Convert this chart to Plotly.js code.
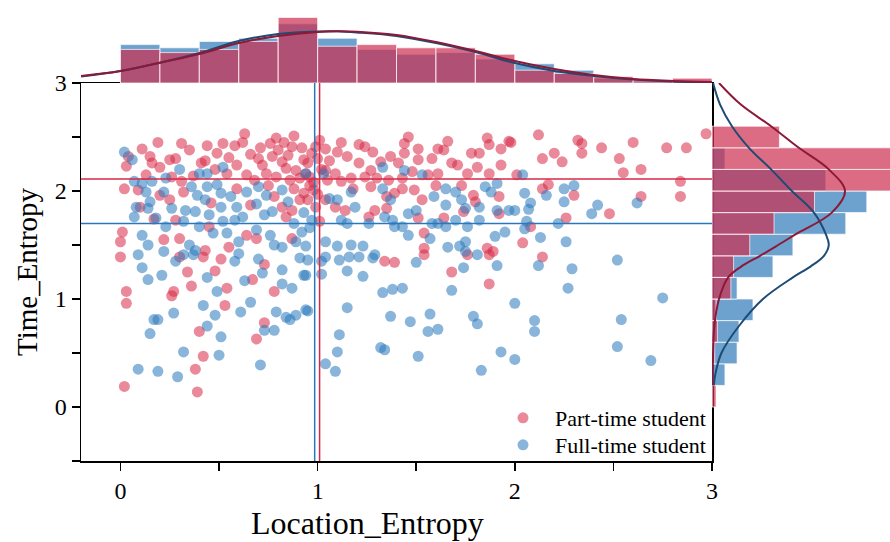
<!DOCTYPE html>
<html><head><meta charset="utf-8">
<script src="https://cdn.plot.ly/plotly-3.0.1.min.js"></script>
<style>html,body{margin:0;padding:0;background:#fff}#chart{width:890px;height:542px}</style>
</head><body><div id="chart"></div>
<script>
const seriesNames = ['Part-time student', 'Full-time student'];
const axisTitles = ['Location_Entropy', 'Time_Entropy'];

const partLocation = [0.63,0.31,0.19,0.11,0.44,0.52,0.58,0.49,0.66,0.76,
0.79,0.88,0.87,0.04,0.03,0.15,0.16,0.20,0.25,0.28,
0.26,0.31,0.41,0.43,0.54,0.59,0.64,0.68,0.72,0.77,
0.82,0.84,0.89,0.93,0.74,0.79,0.86,0.91,0.94,0.02,
0.09,0.20,0.25,0.32,0.46,0.59,0.66,0.78,0.82,0.87,
0.91,0.84,0.10,0.45,0.30,0.22,0.64,0.69,0.87,0.01,
0.00,0.00,0.43,0.55,0.28,0.17,0.80,0.85,0.92,0.70,
0.75,0.88,0.93,0.96,0.83,1.46,1.44,1.51,1.01,0.99,
1.04,1.10,1.21,1.24,1.28,1.15,1.21,1.27,1.37,1.41,
1.44,1.51,1.48,1.61,1.64,1.68,1.71,1.78,1.82,1.86,
1.87,1.93,1.97,1.81,1.87,1.93,1.76,1.61,1.56,0.95,
0.96,0.98,0.95,0.99,1.04,1.05,1.09,1.12,1.17,1.24,
1.30,1.36,1.43,1.01,1.04,1.09,1.14,1.27,1.35,1.39,
1.43,1.49,1.53,1.35,1.29,1.26,1.51,1.64,1.74,1.80,
1.79,1.92,1.92,1.54,1.54,1.86,1.89,1.00,1.02,0.97,
1.06,0.98,1.00,2.12,2.32,2.34,2.34,2.20,2.14,2.24,
2.44,2.53,2.60,2.55,2.64,2.77,2.87,2.97,1.98,2.01,
2.17,2.14,2.30,2.84,2.84,2.64,2.48,2.26,2.08,2.04,
2.14,0.30,0.42,0.51,0.48,0.34,0.36,0.27,0.26,0.54,
0.53,0.03,0.03,0.67,0.73,0.78,0.73,0.69,0.40,0.42,
0.38,0.02,0.39,1.34,1.39,1.54,1.68,1.87,1.76,1.87,
0.35,0.55,0.62,0.71,1.12,1.32,1.58,1.66,1.73,0.48,
1.18,1.60,0.13,0.37];
const partTime = [2.53,2.44,2.45,2.39,2.42,2.44,2.42,2.35,2.34,2.44,
2.49,2.51,2.41,2.32,2.23,2.32,2.26,2.22,2.29,2.30,
2.13,2.09,2.26,2.28,2.16,2.24,2.15,2.10,2.24,2.32,
2.27,2.21,2.19,2.29,2.16,2.13,2.10,2.12,2.16,2.02,
2.01,1.96,1.92,1.99,1.89,2.02,1.87,1.95,1.85,1.82,
1.92,1.76,1.85,1.67,1.56,1.55,1.59,1.56,1.56,1.62,
1.53,1.39,1.45,1.48,1.73,1.74,2.38,2.33,2.40,2.30,
2.05,2.02,1.98,2.05,2.45,2.50,2.44,2.39,2.47,2.41,
2.39,2.36,2.43,2.41,2.36,2.32,2.26,2.19,2.32,2.26,
2.35,2.29,2.18,2.39,2.38,2.26,2.24,2.35,2.35,2.49,
2.43,2.39,2.46,2.22,2.16,2.24,2.16,2.16,2.15,2.26,
2.13,2.01,1.92,1.85,2.19,2.10,2.16,2.09,2.12,2.13,
2.12,2.10,2.12,1.72,1.92,1.85,1.82,2.04,1.95,1.98,
2.02,2.01,1.92,1.84,1.82,1.76,1.75,1.75,1.81,1.90,
1.96,1.95,1.79,1.61,1.47,1.47,1.44,2.30,2.20,2.35,
2.28,2.08,1.97,2.52,2.47,2.44,2.35,2.35,2.30,2.27,
2.40,2.30,2.45,2.17,2.20,2.40,2.40,2.53,2.45,2.15,
2.06,2.02,1.96,2.09,1.95,1.95,1.79,1.75,1.67,1.52,
1.39,1.39,1.39,1.37,1.26,1.25,1.12,1.07,1.03,1.10,
0.94,1.07,0.96,1.18,1.32,1.07,0.78,0.63,0.70,0.47,
0.35,0.19,0.14,1.35,1.34,1.41,1.25,1.14,1.41,1.41,
2.38,2.31,2.45,2.40,2.45,2.27,2.30,2.46,2.05,2.20,
2.02,2.05,2.15,2.14];

const fullLocation = [0.02,0.06,0.30,0.40,0.44,0.52,0.07,0.11,0.16,0.23,
0.36,0.44,0.49,0.13,0.22,0.39,0.43,0.51,0.56,0.64,
0.70,0.74,0.82,0.69,0.77,0.15,0.26,0.33,0.38,0.45,
0.51,0.59,0.62,0.73,0.08,0.07,0.14,0.18,0.23,0.32,
0.40,0.52,0.58,0.11,0.14,0.22,0.35,0.38,0.47,0.54,
0.60,0.69,0.76,0.78,0.82,0.92,0.89,0.09,0.32,0.60,
0.88,0.93,0.85,0.96,0.94,1.03,1.17,1.33,1.33,1.44,
1.53,1.65,1.70,1.73,1.85,1.88,1.91,1.19,1.10,1.06,
1.37,1.38,1.46,1.50,1.59,1.65,1.75,1.82,1.91,1.97,
0.97,1.12,1.15,1.26,1.34,1.39,1.43,1.46,1.58,1.61,
1.65,1.70,1.76,1.75,1.82,1.90,1.95,0.94,1.04,1.10,
1.17,1.23,1.29,1.21,1.04,1.57,1.66,1.72,1.75,1.81,
2.04,2.05,2.16,2.25,2.30,2.25,2.08,2.07,2.00,2.42,
2.39,2.62,2.06,2.05,2.22,2.13,2.26,2.52,0.11,0.14,
0.21,0.28,0.37,0.44,0.49,0.58,0.63,0.70,0.72,0.82,
0.82,0.87,0.93,0.91,0.42,0.48,0.27,0.17,0.19,0.15,
0.61,0.66,0.79,0.84,0.86,0.89,0.94,0.73,0.78,0.44,
0.51,0.32,0.50,0.71,0.09,0.19,0.29,0.95,1.02,1.11,
1.16,1.28,0.94,1.02,1.15,1.23,1.50,1.74,1.91,1.33,
1.38,1.43,1.68,0.95,1.15,1.37,1.47,1.57,1.56,1.61,
1.79,1.81,1.11,1.10,1.32,1.34,1.51,1.04,1.09,1.83,
1.93,2.00,2.00,2.12,2.29,2.27,2.75,2.10,2.10,2.54,
2.52,2.69];
const fullTime = [2.36,2.29,2.20,2.16,2.16,2.22,2.09,2.07,2.09,2.12,
2.04,2.04,2.06,1.99,1.99,1.96,1.92,1.98,1.95,1.99,
2.04,1.96,2.01,1.88,1.81,1.90,1.84,1.82,1.81,1.78,
1.85,1.85,1.76,1.78,1.85,1.76,1.84,1.75,1.67,1.72,
1.67,1.72,1.73,1.59,1.50,1.44,1.50,1.45,1.61,1.61,
1.53,1.64,1.59,1.50,1.48,1.62,1.53,1.41,1.41,1.42,
1.70,1.80,1.90,1.66,2.16,2.16,1.99,2.02,2.22,2.19,
2.15,2.02,1.99,1.92,2.04,1.99,2.07,1.85,1.92,1.93,
1.92,1.73,1.79,1.82,1.95,1.87,1.84,1.85,1.82,1.82,
1.73,1.73,1.70,1.70,1.76,1.67,1.67,1.59,1.70,1.70,
1.67,1.73,1.67,1.53,1.73,1.58,1.62,1.49,1.53,1.49,
1.50,1.49,1.41,1.39,1.39,1.56,1.48,1.49,1.44,1.41,
2.15,1.98,1.96,2.02,2.05,1.90,1.89,1.83,1.82,1.87,
1.79,1.89,1.72,1.65,1.70,1.57,1.53,1.36,1.29,1.18,
1.22,1.35,1.41,1.20,1.07,1.35,1.17,1.37,1.24,1.27,
1.14,1.10,1.22,1.38,0.94,0.85,0.87,0.81,0.81,0.68,
0.88,0.97,0.88,0.83,0.81,0.85,0.90,0.71,0.71,0.75,
0.65,0.51,0.48,0.39,0.35,0.33,0.28,1.36,1.35,1.36,
1.39,1.38,1.22,1.23,1.26,1.21,1.34,1.29,1.31,1.06,
1.09,1.10,1.08,0.89,0.92,0.84,0.79,0.86,0.70,0.72,
0.84,0.77,0.67,0.51,0.55,0.53,0.47,0.40,0.33,0.34,
0.51,0.44,0.96,1.31,1.28,1.10,1.01,0.80,0.70,0.81,
0.56,0.43];

// group means [part-time, full-time]
const meanLocation = [1.01, 0.985];
const meanTime = [2.11, 1.70];

// marginal histogram of Location_Entropy (bin centres, counts)
const locBins = [0.1,0.3,0.5,0.7,0.9,1.1,1.3,1.5,1.7,1.9,2.1,2.3,2.5,2.7,2.9];
const partLocCounts = [21,19,21,26,41,23,24,22,22,18,8,6,4,2,3];
const fullLocCounts = [24,22,26,28,37,28,21,18,19,15,12,8,3,1,0];

// marginal histogram of Time_Entropy (bin centres, counts)
const timeBins = [0.1,0.3,0.5,0.7,0.9,1.1,1.3,1.5,1.7,1.9,2.1,2.3,2.5];
const partTimeCounts = [1.5,0,1,2,1.5,7,8,14,23,38,72,74,25];
const fullTimeCounts = [0,4.8,9.3,10,15.2,9.3,22.6,30,49.6,57.4,42.2,4.8,0];

// density curves read from the marginals
const locGrid = [-0.2,0,0.2,0.4,0.6,0.8,1.0,1.1,1.2,1.4,1.6,1.8,2.0,2.2,2.4,2.6,2.8,3.0];
const partLocKde = [4.4,7.5,12.7,18.1,25,29.4,31.9,32.3,32.1,30,25.6,20,13.8,8.8,5,2.5,1.3,0.6];
const fullLocKde = [4.0,7.5,12.7,18.8,26.3,30.6,32.2,32.3,31.6,29.4,25,19.4,12.5,7.5,4.4,2.2,1.0,0.4];
const timeGrid = [0.2,0.3,0.5,0.75,1.0,1.2,1.3,1.4,1.5,1.6,1.8,2.0,2.2,2.4,2.6,2.8,3.0];
const partTimeKde = [0.1,0.2,0.4,0.85,2.6,6,10.8,17.8,24.5,31.1,44.4,49.3,43.3,32.2,21.9,10.7,2.6];
const fullTimeKde = [0.7,1.2,3.5,10,18.9,30,36.5,41.5,43.3,42.2,37.8,29.6,21.9,13.7,7.4,3,0.4];

const axisTicks = [0, 1, 2, 3];

const RED = 'rgb(215,40,70)', BLUE = 'rgb(40,120,190)';
const FONT = 'Liberation Serif, Times New Roman, serif';

const barLine = {color:'rgba(255,255,255,0.7)', width:1};
const traces = [
  {type:'bar', x: locBins, y: fullLocCounts, width: 0.2, xaxis:'x', yaxis:'y2',
   marker:{color:'rgba(60,130,190,0.75)', line:barLine}, showlegend:false, hoverinfo:'skip'},
  {type:'bar', x: locBins, y: partLocCounts, width: 0.2, xaxis:'x', yaxis:'y2',
   marker:{color:'rgba(205,45,80,0.7)', line:barLine}, showlegend:false, hoverinfo:'skip'},
  {type:'scatter', mode:'lines', x: locGrid, y: fullLocKde, xaxis:'x', yaxis:'y2',
   line:{color:'rgb(30,75,115)', width:2, shape:'spline'}, showlegend:false, hoverinfo:'skip'},
  {type:'scatter', mode:'lines', x: locGrid, y: partLocKde, xaxis:'x', yaxis:'y2',
   line:{color:'rgb(140,25,55)', width:2, shape:'spline'}, showlegend:false, hoverinfo:'skip'},
  {type:'bar', orientation:'h', y: timeBins, x: fullTimeCounts, width: 0.2, xaxis:'x2', yaxis:'y',
   marker:{color:'rgba(60,130,190,0.75)', line:barLine}, showlegend:false, hoverinfo:'skip'},
  {type:'bar', orientation:'h', y: timeBins, x: partTimeCounts, width: 0.2, xaxis:'x2', yaxis:'y',
   marker:{color:'rgba(205,45,80,0.7)', line:barLine}, showlegend:false, hoverinfo:'skip'},
  {type:'scatter', mode:'lines', y: timeGrid, x: fullTimeKde, xaxis:'x2', yaxis:'y',
   line:{color:'rgb(30,75,115)', width:2, shape:'spline'}, showlegend:false, hoverinfo:'skip'},
  {type:'scatter', mode:'lines', y: timeGrid, x: partTimeKde, xaxis:'x2', yaxis:'y',
   line:{color:'rgb(140,25,55)', width:2, shape:'spline'}, showlegend:false, hoverinfo:'skip'},
  {type:'scatter', mode:'markers', name: seriesNames[0], x: partLocation, y: partTime, xaxis:'x', yaxis:'y',
   legend:'legend', marker:{color:'rgba(215,40,70,0.55)', size:11, line:{width:0}}},
  {type:'scatter', mode:'markers', name: seriesNames[1], x: fullLocation, y: fullTime, xaxis:'x', yaxis:'y',
   legend:'legend2', marker:{color:'rgba(40,120,190,0.55)', size:11, line:{width:0}}}
];

const axisCommon = {
  showline:true, linecolor:'black', linewidth:1.5, mirror:true,
  ticks:'outside', ticklen:8, tickwidth:1.5, tickcolor:'black',
  showgrid:false, zeroline:false,
  tickfont:{family:FONT, size:24, color:'black'},
  minor:{dtick:0.5, ticks:'outside', ticklen:8, tickwidth:1.5, tickcolor:'black', showgrid:false}
};

const legendCommon = {xanchor:'left', yanchor:'top', bgcolor:'rgba(0,0,0,0)', itemwidth:54,
  font:{family:FONT, size:22, color:'black'}};

const layout = {
  width:890, height:542,
  margin:{l:0, r:0, t:0, b:0},
  paper_bgcolor:'white', plot_bgcolor:'rgba(0,0,0,0)',
  barmode:'overlay', bargap:0,
  xaxis: Object.assign({}, axisCommon, {
    domain:[81/890, 712/890], range:[-0.2, 3], tickvals: axisTicks, anchor:'y',
    ticklabelstandoff: 0
  }),
  yaxis: Object.assign({}, axisCommon, {
    domain:[81/542, 459/542], range:[-0.5, 3], tickvals: axisTicks, anchor:'x',
    title:{text:axisTitles[1], font:{family:FONT, size:29, color:'black'}, standoff:8}
  }),
  yaxis2:{domain:[459/542, 534/542], range:[0, 46.9], anchor:'x', visible:false, fixedrange:true},
  xaxis2:{domain:[712/890, 1], range:[0, 66], anchor:'y', visible:false, fixedrange:true},
  legend: Object.assign({x:491/890, y:(542-397)/542}, legendCommon),
  legend2: Object.assign({x:491/890, y:(542-424)/542}, legendCommon),
  annotations:[
    {text:axisTitles[0], xref:'paper', yref:'paper', x:367/890, y:(542-523)/542,
     xanchor:'center', yanchor:'middle', showarrow:false,
     font:{family:FONT, size:32, color:'black'}}
  ],
  shapes:[
    {type:'line', xref:'x', yref:'y domain', x0:meanLocation[0], x1:meanLocation[0], y0:0, y1:1, line:{color:RED, width:1.5}, layer:'above'},
    {type:'line', xref:'x', yref:'y domain', x0:meanLocation[1], x1:meanLocation[1], y0:0, y1:1, line:{color:BLUE, width:1.5}, layer:'above'},
    {type:'line', xref:'x domain', yref:'y', x0:0, x1:1, y0:meanTime[0], y1:meanTime[0], line:{color:RED, width:1.5}, layer:'above'},
    {type:'line', xref:'x domain', yref:'y', x0:0, x1:1, y0:meanTime[1], y1:meanTime[1], line:{color:BLUE, width:1.5}, layer:'above'}
  ]
};

Plotly.newPlot('chart', traces, layout, {staticPlot:true, displayModeBar:false});
</script>
</body></html>
